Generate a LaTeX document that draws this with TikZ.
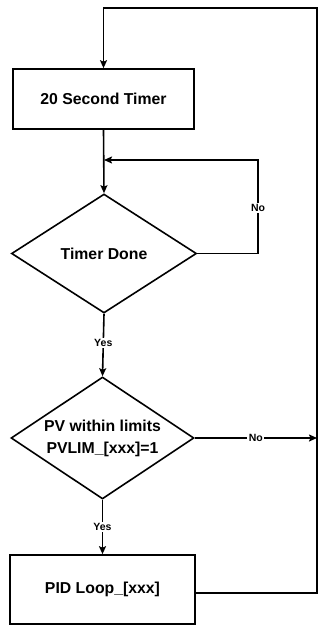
\documentclass[tikz,border=0pt]{standalone}
\usepackage{fontspec}
\setmainfont{Liberation Sans}
\usetikzlibrary{shapes.geometric,arrows.meta}
\tikzset{
  line/.style={line width=1.6pt},
  arr/.style={line width=1.6pt,-{Stealth[length=8pt,width=7pt,inset=1.5pt]}},
  procbox/.style={draw,line width=1.6pt,rectangle,inner sep=0pt,font=\fontsize{15.8}{22}\selectfont\bfseries,align=center},
  decbox/.style={draw,line width=1.6pt,diamond,inner sep=0pt,aspect=1.5,font=\fontsize{15.8}{22}\selectfont\bfseries,align=center},
  lbl/.style={fill=white,inner sep=1.5pt,font=\fontsize{10.5}{12}\selectfont\bfseries}
}
\begin{document}
\begin{tikzpicture}[x=1pt,y=-1pt]
\useasboundingbox (0,0) rectangle (320,627);
\node[procbox,minimum width=181pt,minimum height=60pt] (box1) at (103.5,99) {20 Second Timer};
\node[decbox,minimum width=185pt,minimum height=119pt] (d1) at (104,253.5) {Timer Done};
\node[decbox,minimum width=183pt,minimum height=122pt] (d2) at (102.5,438) {PV within limits\\PVLIM\_[xxx]=1};
\node[procbox,minimum width=185pt,minimum height=69pt] (box2) at (102.5,589.5) {PID Loop\_[xxx]};
\coordinate (tr) at (317,8);
\coordinate (br) at (317,593);
\coordinate (b2e) at (box2.east |- br);
\coordinate (jn) at (317,438);
\coordinate (m1) at (104,160);
\coordinate (nr) at (258,160);
% outer loop
\draw[arr] (b2e) -- (br) -- (tr) -| (box1.north);
% box1 to d1
\draw[arr] (box1.south) -- (d1.north);
% d1 no loop
\draw[arr] (d1.east) -| (nr) -- (m1);
\node[lbl] (no1) at (258,208) {No};
% d1 yes
\draw[arr] (d1.south) -- node[lbl,pos=0.47] (yes1) {Yes} (d2.north);
% d2 no
\draw[arr] (d2.east) -- node[lbl,pos=0.5] (no2) {No} (jn);
% d2 yes
\draw[arr] (d2.south) -- node[lbl,pos=0.5] (yes2) {Yes} (box2.north);
\end{tikzpicture}
\end{document}
